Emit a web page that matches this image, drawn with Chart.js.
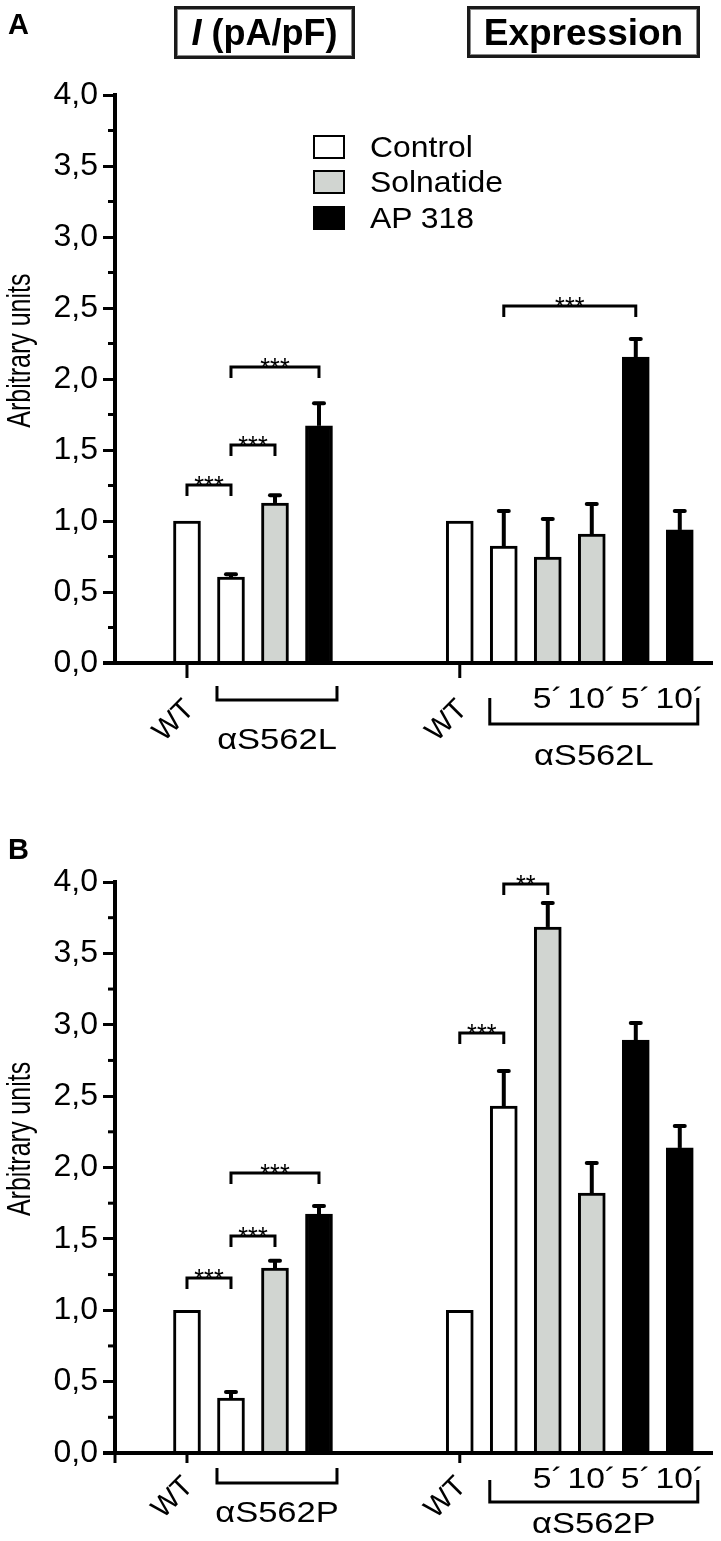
<!DOCTYPE html>
<html>
<head>
<meta charset="utf-8">
<script src="https://cdn.jsdelivr.net/npm/chart.js@4.4.0/dist/chart.umd.min.js"></script>
<style>
  body { margin: 0; width: 721px; height: 1541px; position: relative; background: #fff;
         font-family: "Liberation Sans", Arial, sans-serif; color: #000; overflow: hidden; }
  .panel { position: absolute; left: 0; width: 721px; }
  .letter { position: absolute; left: 8px; font-size: 29px; line-height: 29px; font-weight: bold; }
  .hbox { position: absolute; top: 6px; box-sizing: border-box; border: 3px solid #1a1a1a;
          box-shadow: inset 0 0 0 1px #8a8a8a; display: flex; align-items: center; justify-content: center;
          font-weight: bold; line-height: 1; }
  .swatch { position: absolute; left: 313px; width: 32px; height: 24px; box-sizing: border-box; border: 2px solid #000; }
  .ltext { position: absolute; left: 370px; font-size: 29px; line-height: 30px; transform: scaleX(1.1); transform-origin: left center; }
</style>
</head>
<body>
<div class="panel" style="top:0;height:790px"><canvas id="chartA"></canvas></div>
<div class="panel" style="top:790px;height:751px"><canvas id="chartB"></canvas></div>

<div class="letter" style="top:10px">A</div>
<div class="letter" style="top:835px">B</div>
<div class="hbox" style="left:174px;width:181px;height:53px;font-size:36px"><i>I</i>&nbsp;(pA/pF)</div>
<div class="hbox" style="left:467px;width:233px;height:52px;font-size:37px">Expression</div>
<div id="legend"></div>

<script>
// bar layout: slot position on the x scale, and which treatment each bar is
const treatments = ['Control', 'Solnatide', 'AP 318'];
const treatmentFill = ['#ffffff', '#d1d5d1', '#000000'];
const barSlots = [1, 2, 3, 4, 7.2, 8.2, 9.2, 10.2, 11.2, 12.2];
const barTreatment = [0, 0, 1, 2, 0, 0, 1, 1, 2, 2];
const wtLabel = 'WT';
const wtBars = [0, 4];
const mutantGroups = [[1, 3], [5, 9]];
const doseLabels = ['', '', '', '', '', '', '5´', '10´', '5´', '10´'];

// panel A (αS562L)
const mutantA = 'αS562L';
const meanA = [1.0, 0.605, 1.127, 1.67, 1.0, 0.824, 0.746, 0.908, 2.155, 0.937];
const semA = [0, 0.02, 0.055, 0.16, 0, 0.247, 0.268, 0.211, 0.127, 0.134];
const sigA = [[0, 1, 1.254, '***'], [1, 2, 1.535, '***'], [1, 3, 2.085, '***'], [5, 8, 2.514, '***']];

// panel B (αS562P)
const mutantB = 'αS562P';
const meanB = [1.0, 0.385, 1.296, 1.674, 1.0, 2.431, 3.685, 1.821, 2.893, 2.137];
const semB = [0, 0.042, 0.05, 0.056, 0, 0.245, 0.168, 0.21, 0.12, 0.154];
const sigB = [[0, 1, 1.226, '***'], [1, 2, 1.52, '***'], [1, 3, 1.961, '***'], [4, 5, 2.942, '***'], [5, 6, 3.986, '**']];

const FONT = '"Liberation Sans", Arial, sans-serif';
Chart.defaults.font.family = FONT;
Chart.defaults.color = '#000';

// legend (HTML, panel A only)
const legend = document.getElementById('legend');
treatments.forEach((name, t) => {
    const top = [135, 170, 206][t];
    const sw = document.createElement('div');
    sw.className = 'swatch';
    sw.style.top = top + 'px';
    sw.style.background = treatmentFill[t];
    legend.appendChild(sw);
    const tx = document.createElement('div');
    tx.className = 'ltext';
    tx.style.top = (top - 3) + 'px';
    tx.textContent = name;
    legend.appendChild(tx);
});

function wideText(ctx, text, x, y, sx) {
    ctx.save();
    ctx.translate(x, y);
    ctx.scale(sx, 1);
    ctx.fillText(text, 0, 0);
    ctx.restore();
}

function line(ctx, pts, w) {
    ctx.lineWidth = w;
    ctx.beginPath();
    ctx.moveTo(pts[0][0], pts[0][1]);
    pts.slice(1).forEach(p => ctx.lineTo(p[0], p[1]));
    ctx.stroke();
}

// error bars, significance brackets, axis extras and x labels
const figurePlugin = {
    id: 'figure',
    afterDatasetsDraw(chart, args, o) {
        const ctx = chart.ctx, xs = chart.scales.x, ys = chart.scales.y, area = chart.chartArea;
        const px = i => xs.getPixelForValue(barSlots[i]);
        const L = o.lab;
        ctx.save();
        ctx.strokeStyle = '#000';
        ctx.fillStyle = '#000';
        ctx.lineJoin = 'miter';

        // error bars (upper half only)
        o.means.forEach((m, i) => {
            if (!o.sems[i]) return;
            const x = px(i), y0 = ys.getPixelForValue(m), y1 = ys.getPixelForValue(m + o.sems[i]);
            ctx.lineCap = 'butt';
            line(ctx, [[x, y0], [x, y1]], 4);
            ctx.lineCap = 'round';
            line(ctx, [[x - 5, y1], [x + 5, y1]], 4);
        });
        ctx.lineCap = 'butt';

        // significance brackets
        ctx.font = '28px ' + FONT;
        ctx.textAlign = 'center';
        ctx.textBaseline = 'alphabetic';
        o.sigs.forEach(([a, b, v, stars]) => {
            const xa = px(a), xb = px(b), y = ys.getPixelForValue(v);
            line(ctx, [[xa, y + 11], [xa, y], [xb, y], [xb, y + 11]], 3);
            wideText(ctx, stars, (xa + xb) / 2, y + 10, 0.9);
        });

        // minor y ticks
        ys.ticks.forEach(t => {
            if (t.value % 0.5 === 0) return;
            const y = ys.getPixelForValue(t.value);
            line(ctx, [[area.left - 7, y], [area.left, y]], 3);
        });

        // x axis line
        const y0 = area.bottom;
        line(ctx, [[area.left - 12, y0], [area.right, y0]], 4);
        if (L.originTick) line(ctx, [[area.left, y0], [area.left, y0 + 10]], 3);

        // y axis title
        ctx.save();
        ctx.translate(21, ys.getPixelForValue(2.2));
        ctx.rotate(-Math.PI / 2);
        ctx.scale(1, 1.3);
        ctx.font = '25px ' + FONT;
        ctx.textBaseline = 'middle';
        ctx.fillText('Arbitrary units', 0, 0);
        ctx.restore();

        // WT ticks and rotated labels
        wtBars.forEach(i => {
            const x = px(i);
            line(ctx, [[x, y0], [x, y0 + L.tick]], 3);
            ctx.save();
            ctx.translate(x + L.wt[0], y0 + L.wt[1]);
            ctx.rotate(-Math.PI / 4);
            ctx.font = '29px ' + FONT;
            ctx.textAlign = 'right';
            ctx.textBaseline = 'middle';
            ctx.fillText(wtLabel, 0, 0);
            ctx.restore();
        });

        // mutant brackets and names
        ctx.font = '30px ' + FONT;
        ctx.textAlign = 'center';
        mutantGroups.forEach(([a, b], g) => {
            const xa = px(a) - 14, xb = px(b) + 18;
            const yl = y0 + L.bracket[g][0], ye = y0 + L.bracket[g][1];
            line(ctx, [[xa, ye], [xa, yl], [xb, yl], [xb, ye]], 3);
            wideText(ctx, o.mutant, (xa + xb) / 2, y0 + L.name[g], 1.15);
        });

        // time labels
        doseLabels.forEach((t, i) => {
            if (t) wideText(ctx, t, px(i), y0 + L.dose, 1.12);
        });
        ctx.restore();
    }
};

function makeChart(id, means, sems, sigs, mutant, pad, lab) {
    const ctx = document.getElementById(id).getContext('2d');
    return new Chart(ctx, {
        type: 'bar',
        data: {
            datasets: treatments.map((name, t) => ({
                label: name,
                data: barSlots.map((x, i) => barTreatment[i] === t ? { x: x, y: means[i] } : null).filter(Boolean),
                backgroundColor: treatmentFill[t],
                borderColor: '#000',
                borderWidth: 3,
                borderSkipped: 'start',
                barThickness: 27,
                grouped: false
            }))
        },
        options: {
            responsive: true,
            maintainAspectRatio: false,
            animation: false,
            layout: { padding: pad },
            plugins: {
                legend: { display: false },
                tooltip: { enabled: false },
                figure: { means: means, sems: sems, sigs: sigs, mutant: mutant, lab: lab }
            },
            scales: {
                x: { type: 'linear', display: false, offset: false, min: -0.636, max: 12.955 },
                y: {
                    min: 0, max: 4,
                    afterFit(scale) { scale.width = 115; },
                    border: { display: true, width: 4, color: '#000' },
                    grid: {
                        drawOnChartArea: false, drawTicks: true, tickLength: 12, tickWidth: 3,
                        tickColor: c => (c.tick && c.tick.value % 0.5 === 0) ? '#000' : 'rgba(0,0,0,0)'
                    },
                    ticks: {
                        stepSize: 0.25, maxTicksLimit: 20, autoSkip: false, padding: 5,
                        font: { size: 32 },
                        callback: v => v % 0.5 === 0 ? v.toFixed(1).replace('.', ',') : ''
                    }
                }
            }
        },
        plugins: [figurePlugin]
    });
}

makeChart('chartA', meanA, semA, sigA, mutantA,
    { top: 95, bottom: 127, left: 0, right: 8 },
    { tick: 15, wt: [3, 42], bracket: [[37, 23], [61, 35]], name: [86, 102], dose: 45, originTick: false });

makeChart('chartB', meanB, semB, sigB, mutantB,
    { top: 92, bottom: 88, left: 0, right: 8 },
    { tick: 10, wt: [2, 29], bracket: [[30, 15], [49, 27]], name: [69, 80], dose: 35, originTick: true });
</script>
</body>
</html>
